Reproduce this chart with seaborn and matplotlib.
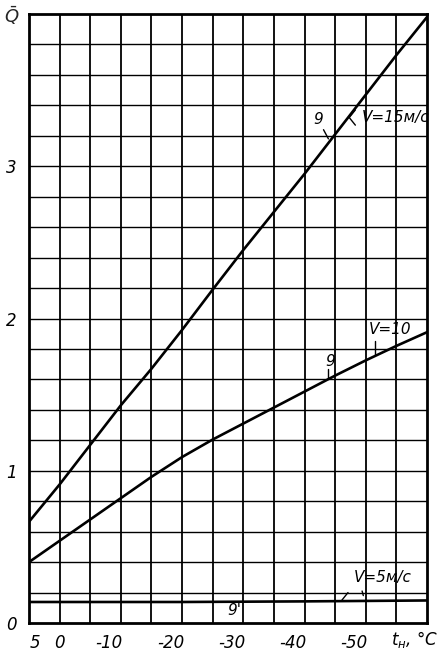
import matplotlib
matplotlib.use("Agg")
import matplotlib.pyplot as plt
import matplotlib.transforms as mtransforms
import seaborn as sns
import pandas as pd
import numpy as np

# values
t_grid = [5, 0, -5, -10, -15, -20, -25, -30, -35, -40, -45, -50, -55, -60]
q_v15 = [0.665, 0.91, 1.17, 1.43, 1.67, 1.925, 2.19, 2.45, 2.70, 2.95, 3.21, 3.47, 3.73, 3.98]
q_v10 = [0.40, 0.54, 0.68, 0.82, 0.96, 1.09, 1.205, 1.31, 1.415, 1.52, 1.625, 1.725, 1.82, 1.91]
t_v5 = [5, -20, -40, -60]
q_v5 = [0.138, 0.138, 0.142, 0.148]

x_ticks = [5, 0, -10, -20, -30, -40, -50]
x_labels = ["5", "0", "-10", "-20", "-30", "-40", "-50"]
y_ticks = [0, 1, 2, 3]

sns.set_theme(style="white")
plt.rcParams["font.family"] = ["DejaVu Sans"]

fig = plt.figure(figsize=(4.42, 6.52), dpi=100)
ax = fig.add_axes([29 / 442, 1 - 623 / 652, 398 / 442, 609 / 652])

df = pd.concat([
    pd.DataFrame({"t": t_grid, "Q": q_v15, "V": "15"}),
    pd.DataFrame({"t": t_grid, "Q": q_v10, "V": "10"}),
    pd.DataFrame({"t": t_v5, "Q": q_v5, "V": "5"}),
])
sns.lineplot(data=df, x="t", y="Q", units="V", estimator=None, color="black",
             linewidth=1.9, ax=ax, legend=False, sort=False)

ax.set_xlim(5, -60)
ax.set_ylim(0, 4)

# grid paper
for xv in np.arange(0, -60, -5):
    ax.axvline(xv, color="black", linewidth=1.3, zorder=0)
for yv in np.arange(0.2, 3.99, 0.2):
    ax.axhline(yv, color="black", linewidth=1.0, zorder=0)

for s in ax.spines.values():
    s.set_color("black")
    s.set_linewidth(2)

txt = dict(fontstyle="italic", fontsize=12, color="black")
ax.set_xticks(x_ticks)
ax.set_xticklabels(x_labels, **txt)
ax.set_yticks(y_ticks)
ax.set_yticklabels([str(v) for v in y_ticks], **txt)
ax.tick_params(length=0)
ax.tick_params(axis="x", pad=8)
ax.tick_params(axis="y", pad=9)
for lbl in ax.get_xticklabels():
    s = lbl.get_text()
    if s.startswith("-"):
        lbl.set_ha("right")
        lbl.set_transform(lbl.get_transform() + mtransforms.ScaledTranslation(2 / 100, 0, fig.dpi_scale_trans))
    elif s == "5":
        lbl.set_transform(lbl.get_transform() + mtransforms.ScaledTranslation(6 / 100, 0, fig.dpi_scale_trans))
ax.set_xlabel("")
ax.set_ylabel("")

fig.text(438 / 442, 1 - 640 / 652, "$t_н$, °C", ha="right", va="center", **txt)
fig.text(12 / 442, 1 - 16 / 652, r"$\bar{Q}$", ha="center", va="center", fontsize=13)

# curve labels
lab = dict(fontstyle="italic", fontsize=11, color="black", ha="center", va="center")
ax.text(-42.3, 3.31, "9", **lab)
ax.plot([-43.1, -43.9], [3.24, 3.18], color="black", lw=1)
ax.text(-54.8, 3.32, "V=15м/с", **lab)
ax.plot([-48.3, -47.3, -48.3], [3.37, 3.32, 3.27], color="black", lw=1)

ax.text(-54.0, 1.93, "V=10", **lab)
ax.plot([-51.5, -51.5], [1.85, 1.76], color="black", lw=1)
ax.text(-44.2, 1.72, "9", **lab)
ax.plot([-43.8, -43.8], [1.67, 1.61], color="black", lw=1)

ax.text(-52.8, 0.30, "V=5м/с", **lab)
ax.plot([-46.1, -47.1], [0.15, 0.20], color="black", lw=1)
ax.plot([-49.4, -49.6], [0.21, 0.18], color="black", lw=1)
ax.text(-28.6, 0.085, "9'", **lab)

fig.savefig("out.png", dpi=100)
